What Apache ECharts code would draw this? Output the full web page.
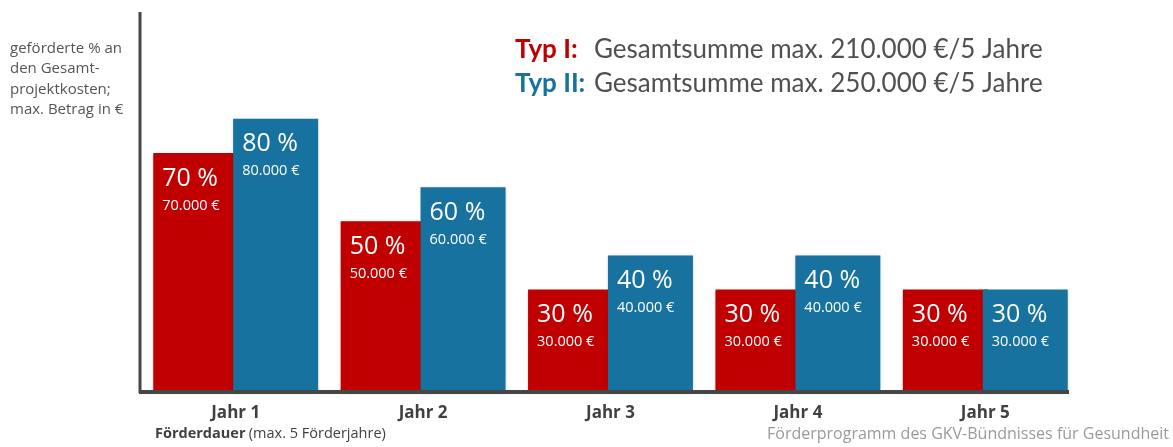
<!DOCTYPE html>
<html>
<head>
<meta charset="utf-8">
<script src="https://cdn.jsdelivr.net/npm/echarts@6/dist/echarts.min.js"></script>
<style>
  html, body { margin: 0; padding: 0; background: #fff; }
  #chart { width: 1173px; height: 447px; }
</style>
</head>
<body>
<div id="chart"></div>
<script>
// Daten
var jahre = ['Jahr 1', 'Jahr 2', 'Jahr 3', 'Jahr 4', 'Jahr 5'];
var typ1Prozent = [70, 50, 30, 30, 30];
var typ2Prozent = [80, 60, 40, 40, 30];
var typ1Betrag = ['70.000 €', '50.000 €', '30.000 €', '30.000 €', '30.000 €'];
var typ2Betrag = ['80.000 €', '60.000 €', '40.000 €', '40.000 €', '30.000 €'];

var rot = '#c00000';
var blau = '#18729f';
var font = 'Open Sans';
var titelFont = 'Lato';

var chart = echarts.init(document.getElementById('chart'));

function balkenLabel(betraege) {
    return {
        show: true,
        position: 'insideTopLeft',
        distance: 0,
        padding: [9, 0, 0, 9],
        formatter: function (p) {
            return '{p|' + p.value + ' %}\n{e|' + betraege[p.dataIndex] + '}';
        },
        rich: {
            p: { fontFamily: font, fontSize: 25, color: '#fff', lineHeight: 33 },
            e: { fontFamily: font, fontSize: 14.5, color: '#fff', lineHeight: 21 }
        }
    };
}

var option = {
    animation: false,
    grid: { left: 142, width: 937, top: 13, bottom: 55 },
    xAxis: {
        type: 'category',
        data: jahre,
        axisLine: { show: false },
        axisTick: { show: false },
        axisLabel: {
            margin: 13,
            fontFamily: font,
            fontSize: 17,
            fontWeight: 'bold',
            color: '#404040'
        }
    },
    yAxis: {
        type: 'value',
        min: 0,
        max: 111,
        splitLine: { show: false },
        axisLabel: { show: false },
        axisTick: { show: false },
        axisLine: { show: false }
    },
    series: [
        {
            name: 'Typ I',
            type: 'bar',
            data: typ1Prozent,
            barWidth: 85,
            barGap: '-6%',
            itemStyle: { color: rot, shadowBlur: 3, shadowColor: 'rgba(0,0,0,0.25)', shadowOffsetY: 1 },
            label: balkenLabel(typ1Betrag)
        },
        {
            name: 'Typ II',
            type: 'bar',
            data: typ2Prozent,
            barWidth: 85,
            itemStyle: { color: blau, shadowBlur: 3, shadowColor: 'rgba(0,0,0,0.25)', shadowOffsetY: 1 },
            label: balkenLabel(typ2Betrag)
        }
    ],
    graphic: [
        // Achsen
        { type: 'line', shape: { x1: 140, y1: 12, x2: 140, y2: 393 }, style: { stroke: '#464646', lineWidth: 3 }, z: 10 },
        { type: 'line', shape: { x1: 139, y1: 392, x2: 1069, y2: 392 }, style: { stroke: '#464646', lineWidth: 4 }, z: 10 },
        {
            type: 'text', left: 10, top: 38,
            style: {
                text: 'geförderte % an\nden Gesamt-\nprojektkosten;\nmax. Betrag in €',
                fontFamily: font, fontSize: 15, lineHeight: 20.5, fill: '#555'
            }
        },
        {
            type: 'text', left: 515, top: 37,
            style: {
                text: '{r|Typ I:}{g|Gesamtsumme max. 210.000 €/5 Jahre}\n{b|Typ II:}{g|Gesamtsumme max. 250.000 €/5 Jahre}',
                rich: {
                    r: { fontFamily: titelFont, fontSize: 26, fontWeight: 'bold', fill: rot, lineHeight: 34, width: 79 },
                    b: { fontFamily: titelFont, fontSize: 26, fontWeight: 'bold', fill: blau, lineHeight: 34, width: 79 },
                    g: { fontFamily: titelFont, fontSize: 26, fill: '#505050', lineHeight: 34 }
                }
            }
        },
        {
            type: 'text', left: 155, top: 426,
            style: {
                text: '{b|Förderdauer} {n|(max. 5 Förderjahre)}',
                rich: {
                    b: { fontFamily: font, fontSize: 14.5, fontWeight: 'bold', fill: '#404040' },
                    n: { fontFamily: font, fontSize: 14.5, fill: '#404040' }
                }
            }
        },
        {
            type: 'text', left: 767, top: 426,
            style: {
                text: 'Förderprogramm des GKV-Bündnisses für Gesundheit',
                fontFamily: font, fontSize: 16, fill: '#9a9a9a'
            }
        }
    ]
};

chart.setOption(option);
</script>
</body>
</html>
